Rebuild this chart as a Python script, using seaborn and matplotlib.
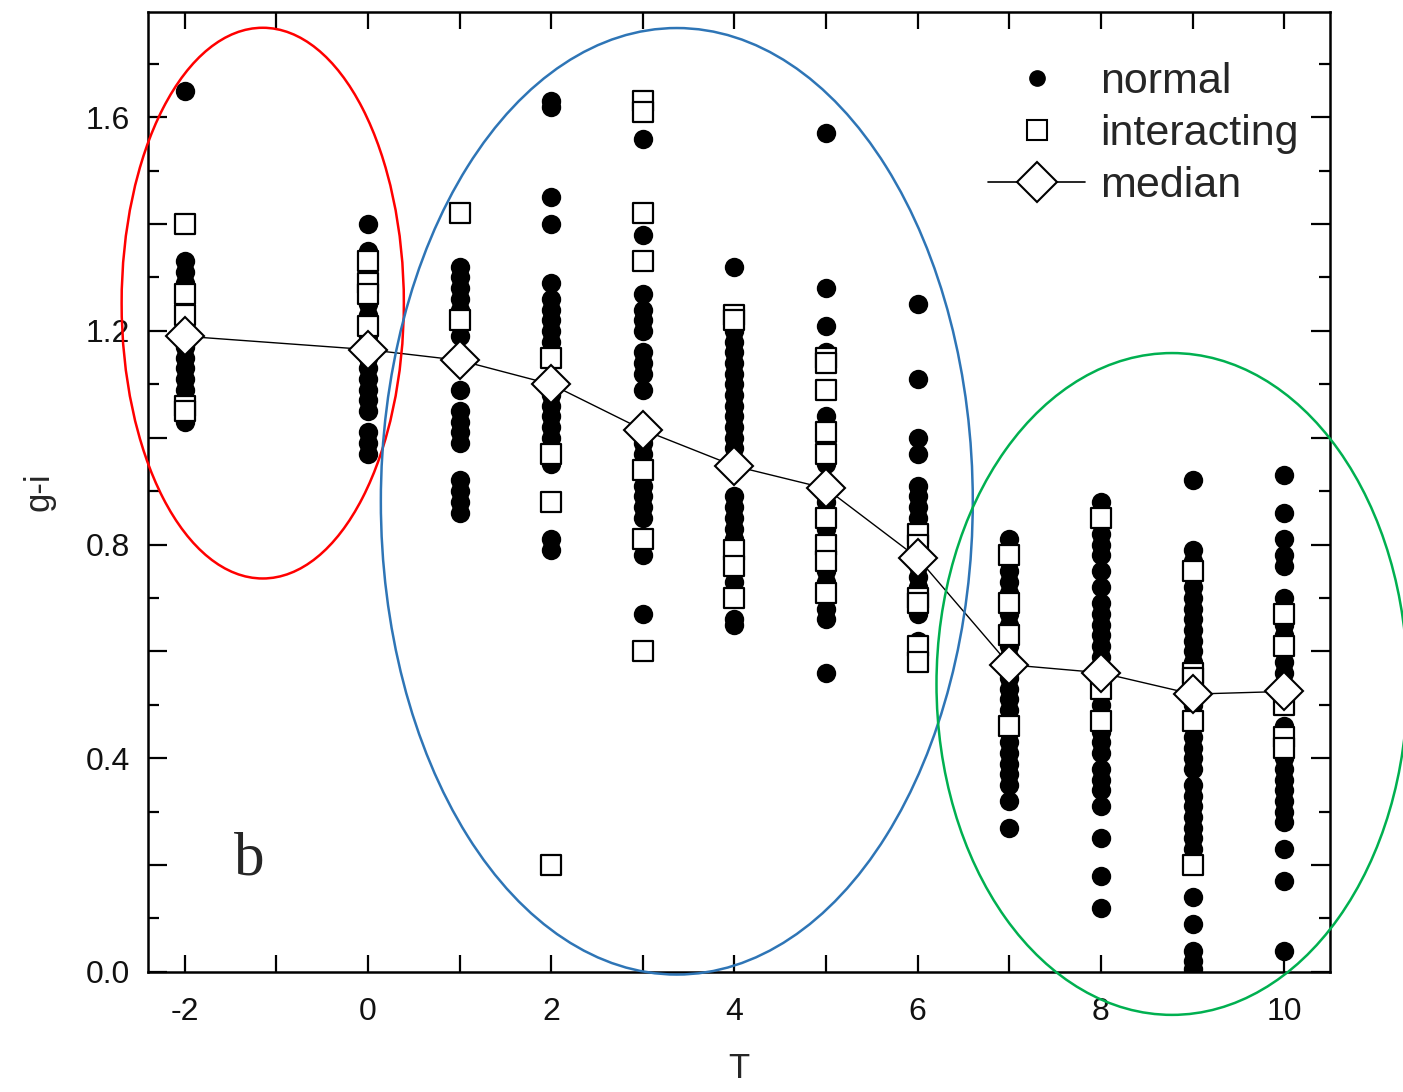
import pandas as pd
import matplotlib
matplotlib.use('Agg')
import matplotlib.pyplot as plt
from matplotlib.patches import Ellipse
from matplotlib.lines import Line2D
from matplotlib.ticker import MultipleLocator, FuncFormatter
import seaborn as sns

# g-i colour of "normal" galaxies per morphological type T
normal_m2 = [1.65, 1.33, 1.31, 1.29, 1.27, 1.25, 1.23, 1.21, 1.19, 1.17, 1.15, 1.13, 1.11, 1.09, 1.07, 1.05, 1.03]
normal_0 = [1.40, 1.35, 1.33, 1.31, 1.29, 1.27, 1.25, 1.23, 1.21, 1.19, 1.17, 1.15, 1.13, 1.11, 1.09, 1.07, 1.05,
            1.01, 0.99, 0.97]
normal_1 = [1.32, 1.30, 1.28, 1.26, 1.24, 1.19, 1.09, 1.05, 1.03, 1.01, 0.99, 0.92, 0.90, 0.88, 0.86]
normal_2 = [1.63, 1.62, 1.45, 1.40, 1.29, 1.26, 1.24, 1.22, 1.20, 1.18, 1.16, 1.08, 1.06, 1.04, 1.02, 1.00,
            0.95, 0.81, 0.79]
normal_3 = [1.56, 1.38, 1.27, 1.24, 1.22, 1.20, 1.16, 1.14, 1.12, 1.09, 0.99, 0.97, 0.91, 0.89, 0.87, 0.85,
            0.78, 0.67]
normal_4 = [1.32, 1.20, 1.18, 1.16, 1.14, 1.12, 1.10, 1.08, 1.06, 1.04, 1.02, 1.00, 0.98, 0.89, 0.87, 0.85,
            0.83, 0.81, 0.73, 0.66, 0.65]
normal_5 = [1.57, 1.28, 1.21, 1.16, 1.04, 1.02, 0.99, 0.95, 0.88, 0.83, 0.79, 0.75, 0.73, 0.68, 0.66, 0.56]
normal_6 = [1.25, 1.11, 1.00, 0.97, 0.91, 0.89, 0.87, 0.85, 0.76, 0.74, 0.72, 0.67, 0.62]
normal_7 = [0.81, 0.79, 0.77, 0.75, 0.73, 0.71, 0.69, 0.67, 0.65, 0.63, 0.61, 0.59, 0.57, 0.55, 0.53, 0.51,
            0.49, 0.47, 0.45, 0.43, 0.41, 0.39, 0.37, 0.35, 0.32, 0.27]
normal_8 = [0.88, 0.82, 0.80, 0.78, 0.75, 0.72, 0.69, 0.67, 0.65, 0.63, 0.61, 0.59, 0.57, 0.55, 0.50, 0.48,
            0.45, 0.43, 0.41, 0.38, 0.36, 0.34, 0.31, 0.25, 0.18, 0.12]
normal_9 = [0.92, 0.79, 0.77, 0.74, 0.72, 0.70, 0.68, 0.66, 0.64, 0.62, 0.60, 0.58, 0.50, 0.48, 0.46, 0.44,
            0.42, 0.40, 0.38, 0.35, 0.33, 0.31, 0.29, 0.27, 0.25, 0.23, 0.21, 0.14, 0.09, 0.04, 0.02, 0.005]
normal_10 = [0.93, 0.86, 0.81, 0.78, 0.76, 0.70, 0.68, 0.65, 0.63, 0.60, 0.58, 0.56, 0.50, 0.46, 0.40, 0.38,
             0.36, 0.34, 0.32, 0.30, 0.28, 0.23, 0.17, 0.04]

# interacting galaxies
inter_m2 = [1.40, 1.27, 1.23, 1.06, 1.05]
inter_0 = [1.33, 1.29, 1.27, 1.21]
inter_1 = [1.42, 1.22]
inter_2 = [1.15, 0.97, 0.88, 0.20]
inter_3 = [1.63, 1.61, 1.42, 1.33, 0.94, 0.81, 0.60]
inter_4 = [1.23, 1.22, 0.79, 0.76, 0.70]
inter_5 = [1.15, 1.14, 1.09, 1.01, 0.97, 0.85, 0.80, 0.77, 0.71]
inter_6 = [0.82, 0.80, 0.70, 0.69, 0.61, 0.58]
inter_7 = [0.78, 0.69, 0.63, 0.46]
inter_8 = [0.85, 0.53, 0.47]
inter_9 = [0.75, 0.56, 0.55, 0.47, 0.20]
inter_10 = [0.67, 0.61, 0.50, 0.44, 0.42]

types = [-2, 0, 1, 2, 3, 4, 5, 6, 7, 8, 9, 10]
median_gi = [1.19, 1.165, 1.145, 1.10, 1.015, 0.947, 0.905, 0.775, 0.575, 0.56, 0.52, 0.525]

normal_cols = [normal_m2, normal_0, normal_1, normal_2, normal_3, normal_4, normal_5, normal_6,
               normal_7, normal_8, normal_9, normal_10]
inter_cols = [inter_m2, inter_0, inter_1, inter_2, inter_3, inter_4, inter_5, inter_6,
              inter_7, inter_8, inter_9, inter_10]

normal = pd.DataFrame([(t, v) for t, col in zip(types, normal_cols) for v in col], columns=['T', 'g-i'])
inter = pd.DataFrame([(t, v) for t, col in zip(types, inter_cols) for v in col], columns=['T', 'g-i'])
med = pd.DataFrame({'T': types, 'g-i': median_gi})

sns.set_style('ticks')
plt.rcParams['font.family'] = ['Liberation Sans', 'DejaVu Sans']

fig = plt.figure(figsize=(14.03, 10.92), dpi=100)
ax = fig.add_axes([0.1055, 0.110, 0.8425, 0.879])

sns.scatterplot(data=normal, x='T', y='g-i', ax=ax, marker='o', s=195, color='black',
                edgecolor='black', linewidth=0, zorder=3, legend=False)
sns.scatterplot(data=inter, x='T', y='g-i', ax=ax, marker='s', s=190, color='white',
                edgecolor='black', linewidth=1.6, zorder=4, legend=False)
sns.lineplot(data=med, x='T', y='g-i', ax=ax, color='black', linewidth=1.0, marker='D',
             markersize=19, markerfacecolor='white', markeredgecolor='black', markeredgewidth=1.5,
             zorder=5, legend=False)

ax.set_xlim(-2.4, 10.5)
ax.set_ylim(0, 1.797)

ax.xaxis.set_major_locator(MultipleLocator(1))
ax.xaxis.set_major_formatter(FuncFormatter(lambda v, p: f'{int(round(v))}' if round(v) % 2 == 0 else ''))
ax.yaxis.set_major_locator(MultipleLocator(0.2))
ax.yaxis.set_minor_locator(MultipleLocator(0.1))
ax.yaxis.set_major_formatter(FuncFormatter(lambda v, p: f'{v:.1f}' if round(v / 0.2) % 2 == 0 else ''))

ax.tick_params(axis='both', which='both', direction='in', top=True, right=True, color='black',
               width=1.6, labelsize=23, labelcolor='#111111')
ax.tick_params(axis='y', which='major', length=14, pad=13)
ax.tick_params(axis='x', which='major', length=12, pad=18)
ax.tick_params(axis='y', which='minor', length=8)
for sp in ax.spines.values():
    sp.set_linewidth(1.8)
    sp.set_color('black')

ax.set_xlabel('T', fontsize=25, labelpad=18)
ax.set_ylabel('g-i', fontsize=25, labelpad=22)

ax.text(-1.29, 0.21, 'b', fontsize=44, family='Liberation Serif', ha='center', va='center')

# highlighted groups
ax.add_patch(Ellipse((-1.148, 1.252), 3.08, 1.031, fill=False, edgecolor='#FF0000', linewidth=1.8,
                     clip_on=False, zorder=6))
ax.add_patch(Ellipse((3.371, 0.881), 6.46, 1.772, fill=False, edgecolor='#2E75B6', linewidth=1.8,
                     clip_on=False, zorder=6))
ax.add_patch(Ellipse((8.775, 0.539), 5.14, 1.239, fill=False, edgecolor='#00B050', linewidth=1.8,
                     clip_on=False, zorder=6))

handles = [
    Line2D([], [], linestyle='none', marker='o', markersize=11, color='black'),
    Line2D([], [], linestyle='none', marker='s', markersize=14, markerfacecolor='white',
           markeredgecolor='black', markeredgewidth=1.5),
    Line2D([], [], color='black', linewidth=1.2, marker='D', markersize=20, markerfacecolor='white',
           markeredgecolor='black', markeredgewidth=1.5),
]
ax.legend(handles, ['normal', 'interacting', 'median'], loc='upper left', bbox_to_anchor=(0.7107, 0.948),
          frameon=False, fontsize=31, handlelength=2.25, handletextpad=0.35, labelspacing=0.28,
          borderpad=0, borderaxespad=0)

fig.savefig('out.png', dpi=100)
